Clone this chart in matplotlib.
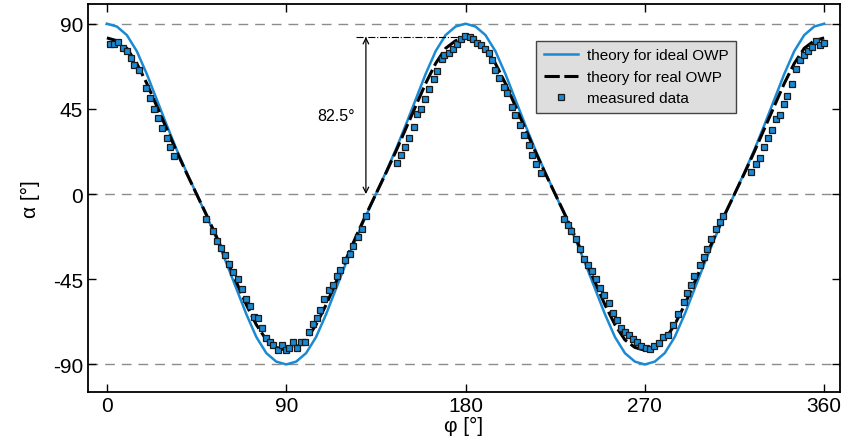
import matplotlib
matplotlib.use("Agg")
import matplotlib.pyplot as plt
import numpy as np

plt.rcParams['font.family'] = ['Liberation Sans', 'DejaVu Sans']
plt.rcParams['axes.unicode_minus'] = False

# theory curves, read every 5 deg
phi_theory = list(range(0, 365, 5))
alpha_ideal = [90, 88.5, 84, 75.5, 63.5, 50, 36.5, 23.5, 11.5, 0,
               -11.5, -23.5, -36.5, -50, -63.5, -75.5, -84, -88.5, -90,
               -88.5, -84, -75.5, -63.5, -50, -36.5, -23.5, -11.5, 0,
               11.5, 23.5, 36.5, 50, 63.5, 75.5, 84, 88.5, 90,
               88.5, 84, 75.5, 63.5, 50, 36.5, 23.5, 11.5, 0,
               -11.5, -23.5, -36.5, -50, -63.5, -75.5, -84, -88.5, -90,
               -88.5, -84, -75.5, -63.5, -50, -36.5, -23.5, -11.5, 0,
               11.5, 23.5, 36.5, 50, 63.5, 75.5, 84, 88.5, 90]
alpha_real = [82.5, 81, 77, 69, 58.5, 46.5, 34.5, 22.5, 11, 0,
              -11, -22.5, -34.5, -46.5, -58.5, -69, -77, -81, -82.5,
              -81, -77, -69, -58.5, -46.5, -34.5, -22.5, -11, 0,
              11, 22.5, 34.5, 46.5, 58.5, 69, 77, 81, 82.5,
              81, 77, 69, 58.5, 46.5, 34.5, 22.5, 11, 0,
              -11, -22.5, -34.5, -46.5, -58.5, -69, -77, -81, -82.5,
              -81, -77, -69, -58.5, -46.5, -34.5, -22.5, -11, 0,
              11, 22.5, 34.5, 46.5, 58.5, 69, 77, 81, 82.5]

# measured data
phi_meas = [1.5, 3.5, 5.7, 7.9, 9.9, 11.9, 13.7, 16.2, 19.6, 21.6, 23.6, 25.8,
            27.8, 30.0, 31.7, 33.7,
            49.7, 53.4, 55.4, 57.3, 59.3, 61.3, 63.5, 66.0, 67.7, 69.7, 71.9,
            73.9, 76.0, 77.7, 79.7, 81.9, 83.5, 85.7, 87.8, 90.0, 91.6, 93.6,
            95.6, 97.3, 99.5, 101.5, 103.3, 105.3, 107.0, 109.0, 111.7, 113.4,
            115.7, 117.0, 119.6, 121.8, 123.5, 125.8, 128.0, 130.1,
            145.6, 147.7, 149.7, 151.7, 153.9, 155.6, 157.8, 159.8, 161.8,
            164.0, 165.6, 168.1, 169.3, 171.5, 173.7, 175.7, 177.7, 179.9,
            182.4, 183.7, 185.7, 187.7, 189.9, 191.6, 193.3, 195.0, 196.7,
            199.2, 200.9, 203.4, 205.0, 207.2, 209.2, 211.7, 213.4, 215.6,
            218.1,
            229.4, 231.4, 233.1, 235.7, 237.4, 239.4, 241.4, 243.5, 245.7,
            247.4, 249.7, 251.9, 254.1, 255.8, 257.8, 259.8, 262.0, 264.2,
            266.3, 268.2, 270.4, 272.5, 274.5, 277.0, 279.3, 281.5, 284.0,
            286.8, 289.6, 291.3, 293.3, 294.9, 297.6, 299.6, 301.3, 303.3,
            305.5, 307.7, 309.4,
            323.5, 325.6, 327.8, 329.8, 331.8, 334.0, 335.7, 337.8, 339.8,
            341.5, 343.7, 345.7, 347.9, 349.9, 351.9, 354.1, 355.8, 358.0,
            360.0]
alpha_meas = [79.5, 79.5, 80.4, 77.3, 75.8, 72.1, 68.3, 65.3, 56.0, 51.0, 45.0,
              40.3, 35.1, 29.7, 24.9, 20.0,
              -12.9, -19.6, -24.9, -28.4, -32.3, -36.7, -41.1, -45.0, -49.9,
              -55.2, -59.0, -64.8, -65.7, -71.0, -75.9, -78.0, -79.8, -82.5,
              -79.8, -82.5, -81.2, -78.4, -81.2, -78.4, -78.4, -72.8, -68.4,
              -65.7, -61.3, -55.2, -50.8, -48.2, -43.2, -40.2, -35.0, -31.4,
              -27.3, -22.6, -18.6, -11.5,
              16.6, 20.9, 24.9, 29.7, 35.5, 42.5, 44.8, 50.0, 55.7, 61.0, 64.8,
              71.2, 73.3, 74.7, 76.8, 79.5, 81.7, 83.3, 82.8, 81.7, 80.0, 78.9,
              76.5, 74.5, 70.6, 65.4, 61.4, 56.6, 53.6, 46.0, 41.6, 36.7, 31.4,
              25.8, 20.9, 16.1, 11.4,
              -12.9, -16.1, -19.6, -23.5, -29.1, -34.1, -37.2, -40.8, -44.6,
              -49.5, -53.4, -57.8, -62.6, -66.6, -70.6, -73.1, -74.6, -76.3,
              -78.4, -80.2, -81.2, -81.9, -80.2, -78.9, -75.4, -74.6, -68.9,
              -63.5, -56.9, -52.0, -47.8, -43.2, -37.6, -33.2, -28.8, -23.5,
              -18.6, -14.7, -11.5,
              11.7, 16.1, 19.1, 24.9, 29.7, 33.7, 39.9, 42.0, 47.8, 51.8, 58.3,
              65.9, 70.6, 73.3, 75.4, 77.7, 80.7, 78.6, 80.0]

x_ticks = [0, 90, 180, 270, 360]
y_ticks = [-90, -45, 0, 45, 90]
ref_lines = [90, 0, -90]
peak_real = 82.5

blue = '#1a8ad4'

fig = plt.figure(figsize=(8.46, 4.39), dpi=100)
ax = fig.add_axes([0.104, 0.105, 0.889, 0.884])

for yv in ref_lines:
    ax.axhline(yv, color='#8c8c8c', lw=1.0, ls=(0, (7, 5)), zorder=1)

ax.plot(phi_theory, alpha_ideal, color=blue, lw=1.8, zorder=2,
        label='theory for ideal OWP')
ax.plot(phi_theory, alpha_real, color='black', lw=2.2, ls=(0, (5, 1.5)),
        zorder=3, label='theory for real OWP')
ax.plot(phi_meas, alpha_meas, ls='none', marker='s', ms=4.8, mfc=blue,
        mec='#1a1a1a', mew=0.9, zorder=4, label='measured data')

# 82.5 deg annotation
ax.plot([125, 180], [peak_real + 0.5, peak_real + 0.5], color='black',
        lw=0.8, ls='-.', zorder=2)
ax.annotate('', xy=(130, peak_real + 0.5), xytext=(130, 0),
            arrowprops=dict(arrowstyle='<->', color='black', lw=0.9,
                            shrinkA=0, shrinkB=0))
ax.text(115, 41.5, '82.5°', fontsize=11.5, ha='center', va='center')

ax.set_xlim(-9.5, 368)
ax.set_ylim(-104.5, 100.5)
ax.set_xticks(x_ticks)
ax.set_yticks(y_ticks)
ax.tick_params(direction='in', length=6, width=1, top=True, right=True,
               labelsize=15)
ax.tick_params(axis='x', pad=3)
for sp in ax.spines.values():
    sp.set_linewidth(1.3)
ax.set_xlabel('φ [°]', fontsize=15, labelpad=0.5)
ax.set_ylabel('α [°]', fontsize=15, labelpad=9)

leg = ax.legend(loc='upper right', bbox_to_anchor=(0.872, 0.925),
                fontsize=11, frameon=True, fancybox=False,
                handlelength=2.2, borderpad=0.5, labelspacing=0.5,
                handletextpad=0.6)
leg.get_frame().set_facecolor('#dedede')
leg.get_frame().set_edgecolor('#444444')
leg.get_frame().set_alpha(1)
leg.get_frame().set_linewidth(1)

fig.savefig('out.png', dpi=100)
